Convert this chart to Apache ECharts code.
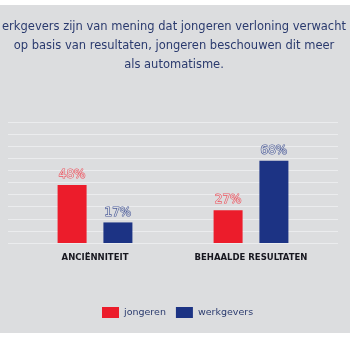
<!DOCTYPE html>
<html><head><meta charset="utf-8">
<script src="https://cdn.jsdelivr.net/npm/echarts@6/dist/echarts.min.js"></script>
<style>html,body{margin:0;padding:0;background:#fff}#c{width:350px;height:350px}</style>
</head><body><div id="c"></div>
<script>
const categories = ['ANCIËNNITEIT', 'BEHAALDE RESULTATEN'];
const jongeren = [48, 27];
const werkgevers = [17, 68];
const titleLines = ['erkgevers zijn van mening dat jongeren verloning verwacht', 'op basis van resultaten, jongeren beschouwen dit meer', 'als automatisme.'];
const seriesNames = ['jongeren', 'werkgevers'];

const RED = '#ec1c2b', BLUE = '#1c3384', BG = '#dcdddf', NAVY = '#2a3a6e';
const chart = echarts.init(document.getElementById('c'));
function lbl(color) {
  return { show: true, position: 'top', distance: 4, formatter: '{c}%', fontFamily: 'DejaVu Sans', fontSize: 12, fontWeight: 'normal',
    color: BG, textBorderColor: color, textBorderWidth: 1.2 };
}
const titleGraphics = titleLines.map((t, i) => ({
  type: 'text', x: 174, y: 27 + i * 19,
  style: { text: t, textAlign: 'center', textVerticalAlign: 'middle', fill: NAVY, font: '11.5px "DejaVu Sans"' }
}));
chart.setOption({
  backgroundColor: '#fff',
  graphic: [{ type: 'rect', z: -10, shape: { x: 0, y: 5, width: 350, height: 328 }, style: { fill: BG } }].concat(titleGraphics),
  legend: { data: seriesNames, bottom: 27, left: 97, itemWidth: 17, itemHeight: 11, itemGap: 10, icon: 'rect',
    textStyle: { color: NAVY, fontFamily: 'DejaVu Sans', fontSize: 9.5 } },
  grid: [
    { left: 17, right: 21, top: 122, bottom: 107 },
    { left: 8, right: 12, top: 122, bottom: 107 }
  ],
  xAxis: [
    { type: 'category', data: categories, gridIndex: 0, axisLine: { show: false }, axisTick: { show: false },
      axisLabel: { margin: 10, color: '#16161e', fontFamily: 'DejaVu Sans', fontWeight: 'bold', fontSize: 8.5 } },
    { type: 'category', data: categories, gridIndex: 1, show: false }
  ],
  yAxis: [
    { type: 'value', gridIndex: 0, min: 0, max: 100, interval: 10, show: false, splitLine: { show: false } },
    { type: 'value', gridIndex: 1, min: 0, max: 100, interval: 10, axisLabel: { show: false }, axisLine: { show: false }, axisTick: { show: false },
      splitLine: { show: true, lineStyle: { color: '#ebecee', width: 1 } } }
  ],
  series: [
    { name: seriesNames[0], type: 'bar', data: jongeren, barWidth: 29, barGap: '58%', itemStyle: { color: RED }, label: lbl('#ef5560'), xAxisIndex: 0, yAxisIndex: 0 },
    { name: seriesNames[1], type: 'bar', data: werkgevers, barWidth: 29, barGap: '58%', itemStyle: { color: BLUE }, label: lbl('#4a5b9a'), xAxisIndex: 0, yAxisIndex: 0 }
  ]
});
</script></body></html>
